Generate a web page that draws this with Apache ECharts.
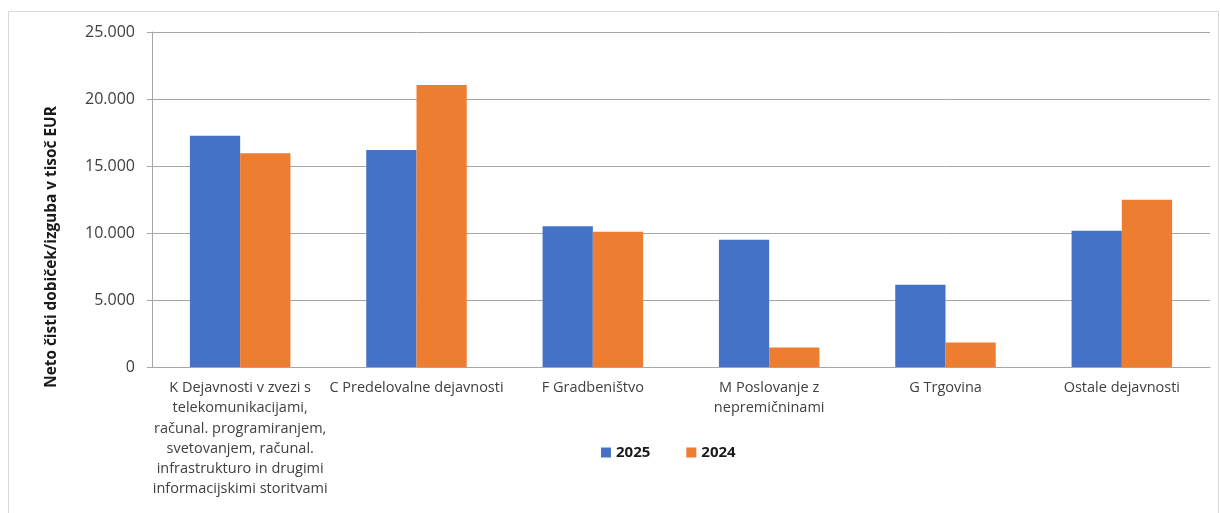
<!DOCTYPE html>
<html>
<head>
<meta charset="utf-8">
<script src="https://cdn.jsdelivr.net/npm/echarts@6/dist/echarts.min.js"></script>
<style>
  html, body { margin: 0; padding: 0; background: #fff; }
  #chart { width: 1220px; height: 513px; }
</style>
</head>
<body>
<div id="chart"></div>
<script>
const categories = [
  "K Dejavnosti v zvezi s\ntelekomunikacijami,\nračunal. programiranjem,\nsvetovanjem, računal.\ninfrastrukturo in drugimi\ninformacijskimi storitvami",
  "C Predelovalne dejavnosti",
  "F Gradbeništvo",
  "M Poslovanje z\nnepremičninami",
  "G Trgovina",
  "Ostale dejavnosti"
];
const values2025 = [17250, 16200, 10500, 9500, 6130, 10170];
const values2024 = [15950, 21050, 10100, 1450, 1820, 12480];
const yTitle = "Neto čisti dobiček/izguba v tisoč EUR";

const font = "'Open Sans', 'Noto Sans', sans-serif";

function fmt(v) {
  return String(v).replace(/\B(?=(\d{3})+(?!\d))/g, ".");
}

let chart = echarts.init(document.getElementById("chart"));
let option = {
  animation: false,
  textStyle: { fontFamily: font },
  grid: { left: 152, right: 10, top: 32, bottom: 146 },
  legend: {
    data: ["2025", "2024"],
    left: 596,
    top: 440,
    itemWidth: 10,
    itemHeight: 10,
    itemGap: 36,
    icon: "rect",
    textStyle: { fontSize: 15, fontWeight: "bold", color: "#1a1a1a", fontFamily: font }
  },
  xAxis: {
    type: "category",
    data: categories,
    axisLine: { lineStyle: { color: "#a6a6a6" } },
    axisTick: { length: 5, lineStyle: { color: "#a6a6a6" } },
    axisLabel: {
      interval: 0,
      color: "#404040",
      fontSize: 14.5,
      lineHeight: 20.2,
      margin: 11,
      fontFamily: font
    }
  },
  yAxis: {
    type: "value",
    min: 0,
    max: 25000,
    interval: 5000,
    axisLine: { show: true, lineStyle: { color: "#a6a6a6" } },
    axisTick: { show: true, length: 5, lineStyle: { color: "#a6a6a6" } },
    splitLine: { lineStyle: { color: "#a6a6a6" } },
    axisLabel: {
      color: "#404040",
      fontSize: 16,
      margin: 17,
      fontFamily: font,
      formatter: fmt
    }
  },
  graphic: [
    {
      type: "rect",
      shape: { x: 8.5, y: 11.5, width: 1210, height: 510 },
      style: { fill: "none", stroke: "#d9d9d9", lineWidth: 1 },
      silent: true
    },
    {
      type: "text",
      x: 52,
      y: 247,
      rotation: Math.PI / 2,
      style: {
        text: yTitle,
        fill: "#1a1a1a",
        font: "bold 15.4px " + font,
        textAlign: "center",
        textVerticalAlign: "middle"
      }
    }
  ],
  series: [
    {
      name: "2025",
      type: "bar",
      data: values2025,
      barGap: "0%",
      barCategoryGap: "43%",
      itemStyle: { color: "#4472C4" }
    },
    {
      name: "2024",
      type: "bar",
      data: values2024,
      itemStyle: { color: "#ED7D31" }
    }
  ]
};
chart.setOption(option);
</script>
</body>
</html>
